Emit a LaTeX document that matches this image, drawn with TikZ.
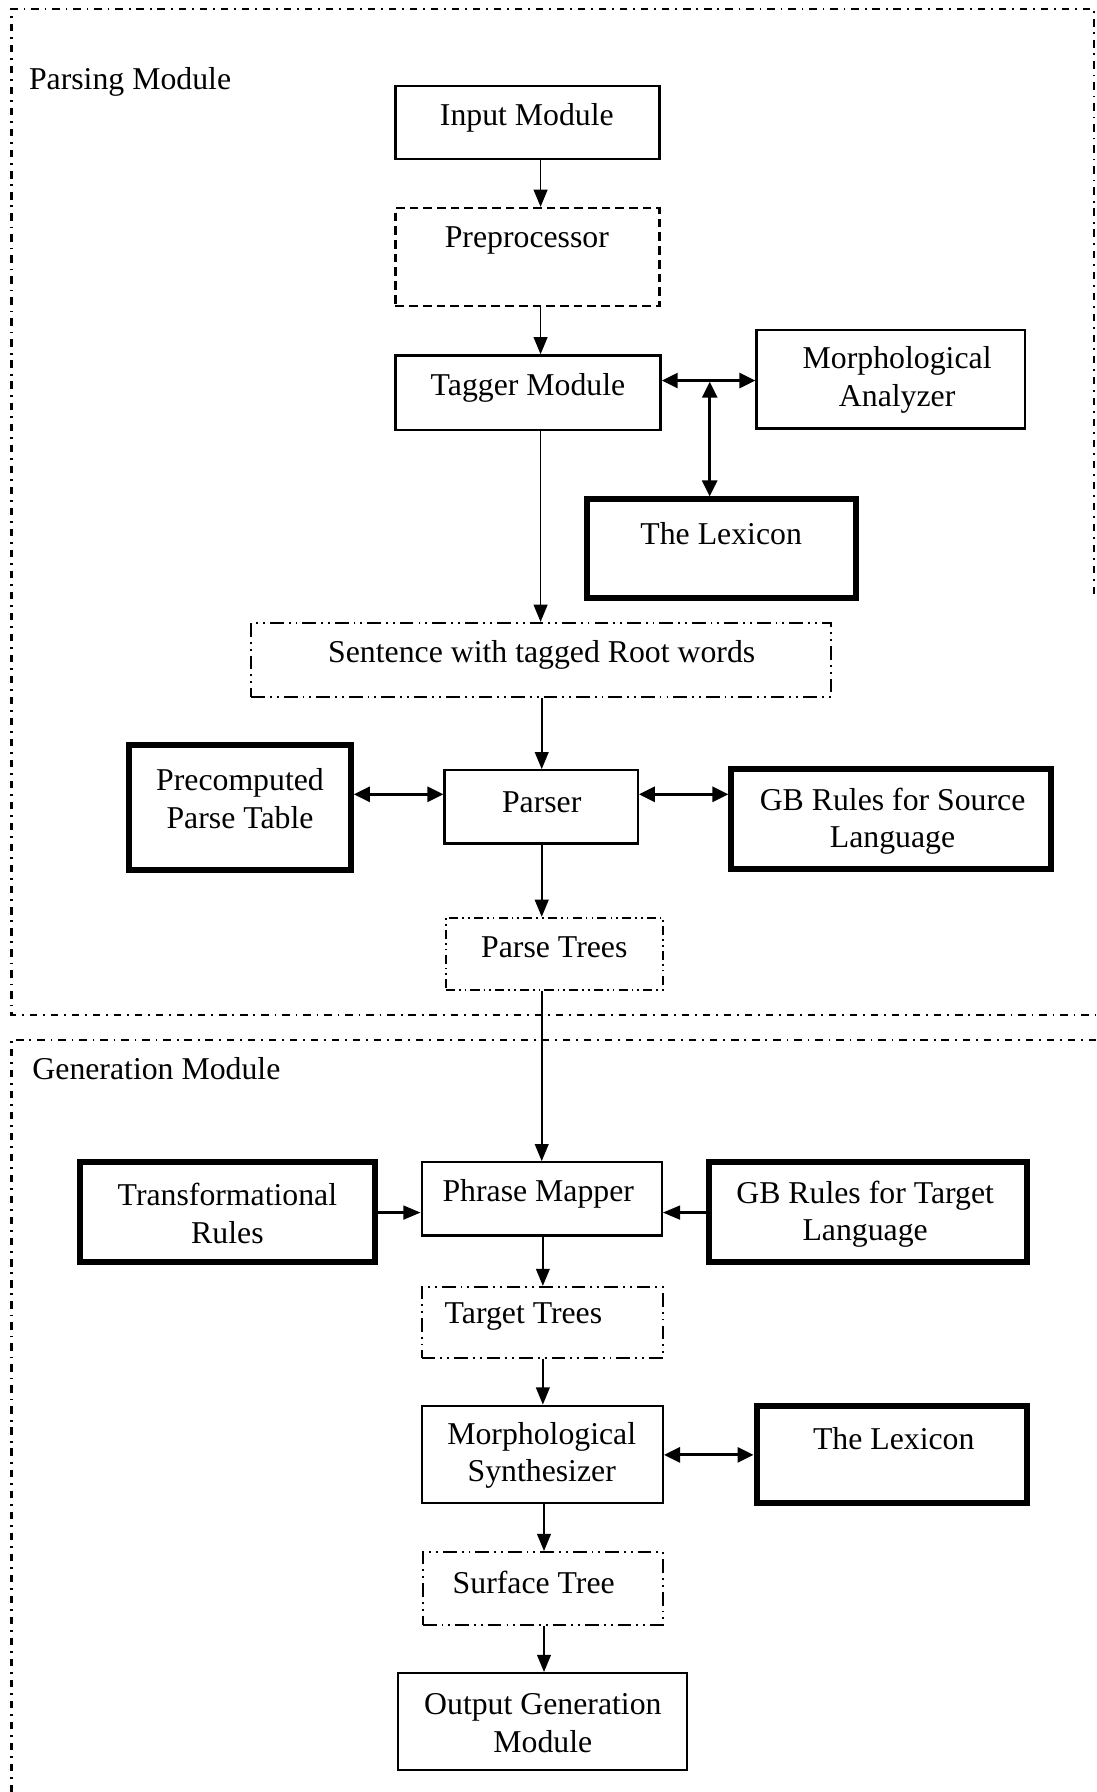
\documentclass[tikz,border=0pt]{standalone}
\usepackage{fontspec}
\setmainfont{Liberation Serif}
\usetikzlibrary{arrows.meta}
\begin{document}
\begin{tikzpicture}[x=0.5pt, y=-0.5pt,
  box/.style={draw, rectangle, line width=1pt, inner sep=0pt},
  thickbox/.style={box, line width=2.6pt},
  dashbox/.style={box, dash pattern=on 3.8pt off 2.2pt},
  ddbox/.style={box, line width=0.85pt, dash pattern=on 6pt off 2.2pt on 0.8pt off 2.2pt on 0.8pt off 2.2pt},
  fineddbox/.style={box, line width=0.75pt, dash pattern=on 4pt off 1.8pt on 0.7pt off 1.8pt on 0.7pt off 1.8pt},
  size/.style 2 args={minimum width=#1*0.5pt, minimum height=#2*0.5pt},
  lbl/.style={font=\fontsize{13.9}{16.5}\selectfont, align=center, inner sep=0pt},
  flow/.style={line width=0.8pt, -{Triangle[length=7.5pt,width=6pt]}},
  link/.style={line width=1.4pt, {Triangle[length=7pt,width=6.5pt]}-{Triangle[length=7pt,width=6.5pt]}},
  frame/.style={line width=1pt, dash pattern=on 3.2pt off 2.6pt on 0.8pt off 2.6pt}]

\fill[white] (0,0) rectangle (959,1568);
\useasboundingbox (0,0) rectangle (959,1568);

% module frames
\coordinate (pf1) at (957,520);
\coordinate (pf2) at (957,8);
\coordinate (pf3) at (10,8);
\coordinate (pf4) at (10,888);
\coordinate (pf5) at (959,888);
\draw[frame] (pf1) -- (pf2) -- (pf3) -- (pf4) -- (pf5);
\coordinate (gf1) at (959,910);
\coordinate (gf2) at (10,910);
\coordinate (gf3) at (10,1568);
\draw[frame] (gf1) -- (gf2) -- (gf3);

\node[lbl, anchor=west] (parsinglbl) at (25,72) {Parsing Module};
\node[lbl, anchor=west] (genlbl) at (28,935) {Generation Module};

% parsing module boxes
\node[box, size={231}{64}] (inp) at (461.5,107) {};
\node[lbl] (inp-t) at (461,103) {Input Module};
\node[dashbox, size={231}{86}] (pre) at (461.5,225) {};
\node[lbl] (pre-t) at (461,210) {Preprocessor};
\node[box, size={232}{65}] (tag) at (462,343.5) {};
\node[lbl] (tag-t) at (462,339) {Tagger Module};
\node[box, size={235}{86}] (mor) at (779.5,332) {};
\node[lbl] (mor-t) at (785,332.5) {Morphological\\Analyzer};
\node[thickbox, size={235}{86}] (lexa) at (631.5,480) {};
\node[lbl] (lexa-t) at (631,467) {The Lexicon};
\node[ddbox, size={507}{65}] (sen) at (473.5,577.5) {};
\node[lbl] (sen-t) at (474,573) {Sentence with tagged Root words};
\node[box, size={169}{64}] (par) at (473.5,706) {};
\node[lbl] (par-t) at (474,702) {Parser};
\node[thickbox, size={194}{109}] (pct) at (210,706.5) {};
\node[lbl] (pct-t) at (210,698.5) {Precomputed\\Parse Table};
\node[thickbox, size={280}{87}] (gbs) at (780,716.5) {};
\node[lbl] (gbs-t) at (781,718.5) {GB Rules for Source\\Language};
\node[fineddbox, size={190}{63}] (ptr) at (485,834.5) {};
\node[lbl] (ptr-t) at (485,829) {Parse Trees};

% generation module boxes
\node[thickbox, size={258}{87}] (trn) at (199,1060.5) {};
\node[lbl] (trn-t) at (199,1062) {Transformational\\Rules};
\node[box, size={210}{64}] (phr) at (474,1049) {};
\node[lbl] (phr-t) at (471,1045) {Phrase Mapper};
\node[thickbox, size={279}{87}] (gbt) at (759.5,1060.5) {};
\node[lbl] (gbt-t) at (757,1062.5) {GB Rules for Target\\Language};
\node[ddbox, size={211}{62}] (tgt) at (474.5,1157) {};
\node[lbl] (tgt-t) at (458,1152) {Target Trees};
\node[box, size={211}{85}] (syn) at (474.5,1272.5) {};
\node[lbl] (syn-t) at (474,1273.5) {Morphological\\Synthesizer};
\node[thickbox, size={237}{85}] (lexb) at (780.5,1272.5) {};
\node[lbl] (lexb-t) at (782,1259) {The Lexicon};
\node[ddbox, size={210}{64}] (sur) at (475,1390) {};
\node[lbl] (sur-t) at (467,1385) {Surface Tree};
\node[box, size={253}{85}] (out) at (474.5,1506.5) {};
\node[lbl] (out-t) at (475,1507.5) {Output Generation\\Module};

% connector columns and rows
\coordinate (c1) at (473,0);
\coordinate (c2) at (474,0);
\coordinate (c3) at (475,0);
\coordinate (c4) at (476,0);
\coordinate (cj) at (621,334);
\coordinate (r1) at (0,333);
\coordinate (r2) at (0,695);
\coordinate (r3) at (0,1061);
\coordinate (r4) at (0,1273);

% vertical flow
\draw[flow] (inp.south -| c1) -- (pre.north -| c1);
\draw[flow] (pre.south -| c1) -- (tag.north -| c1);
\draw[flow] (tag.south -| c1) -- (sen.north -| c1);
\draw[flow] (sen.south -| c2) -- (par.north -| c2);
\draw[flow] (par.south -| c2) -- (ptr.north -| c2);
\draw[flow] (ptr.south -| c2) -- (phr.north -| c2);
\draw[flow] (phr.south -| c3) -- (tgt.north -| c3);
\draw[flow] (tgt.south -| c3) -- (syn.north -| c3);
\draw[flow] (syn.south -| c4) -- (sur.north -| c4);
\draw[flow] (sur.south -| c4) -- (out.north -| c4);

% two-way links
\draw[link] (tag.east |- r1) -- (mor.west |- r1);
\draw[link] (cj) -- (lexa.north -| cj);
\draw[link] (pct.east |- r2) -- (par.west |- r2);
\draw[link] (par.east |- r2) -- (gbs.west |- r2);
\draw[link] (syn.east |- r4) -- (lexb.west |- r4);

% rule inputs to the phrase mapper
\draw[flow, line width=1pt] (trn.east |- r3) -- (phr.west |- r3);
\draw[flow, line width=1pt] (gbt.west |- r3) -- (phr.east |- r3);
\end{tikzpicture}
\end{document}
